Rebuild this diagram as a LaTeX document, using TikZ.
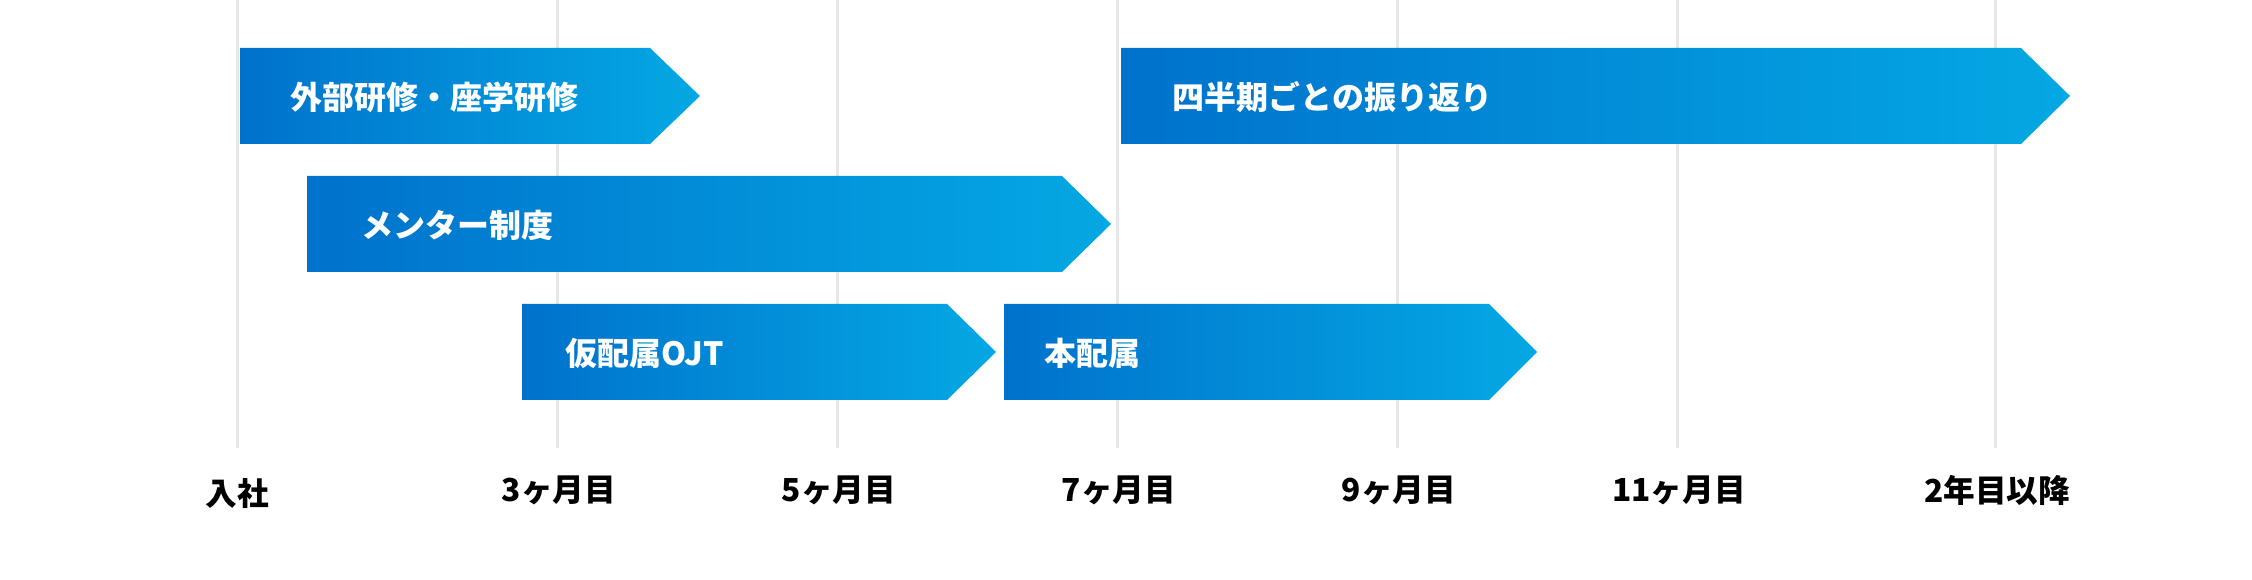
\documentclass[tikz,border=0pt]{standalone}
\usepackage{fontspec}
\setmainfont{Noto Sans CJK JP}
\usepackage{tikz}
\definecolor{bardark}{RGB}{0,114,204}
\definecolor{barlight}{RGB}{4,168,227}
\definecolor{gridgray}{RGB}{229,231,233}
\tikzset{
  bar/.style={left color=bardark, right color=barlight},
  grid/.style={draw=gridgray, line width=0.03cm},
  bartext/.style={anchor=west, text=white, font=\bfseries\fontsize{9.1pt}{9.5pt}\selectfont, inner sep=0pt},
  month/.style={text=black, font=\bfseries\fontsize{9pt}{9.5pt}\selectfont, inner sep=0pt}
}

\begin{document}
\begin{tikzpicture}[x=0.01cm, y=-0.01cm]
\useasboundingbox (0,0) rectangle (2252,580);
%grid
\draw[grid] (237,0) to (237,448);
\draw[grid] (557,0) to (557,448);
\draw[grid] (837,0) to (837,448);
\draw[grid] (1117,0) to (1117,448);
\draw[grid] (1397,0) to (1397,448);
\draw[grid] (1677,0) to (1677,448);
\draw[grid] (1995,0) to (1995,448);

%bars
%row 1
\shade[bar] (240,48) -- (650,48) -- (700,96) -- (650,144) -- (240,144) -- cycle;
\shade[bar] (1121,48) -- (2021,48) -- (2070,96) -- (2021,144) -- (1121,144) -- cycle;
%row 2
\shade[bar] (307,176) -- (1062,176) -- (1111,224) -- (1062,272) -- (307,272) -- cycle;
%row 3
\shade[bar] (522,304) -- (947,304) -- (996,352) -- (947,400) -- (522,400) -- cycle;
\shade[bar] (1004,304) -- (1489,304) -- (1537,352) -- (1489,400) -- (1004,400) -- cycle;

%put texts
\node[bartext] (gaibu) at (290,97) {外部研修・座学研修};
\node[bartext] (shihanki) at (1172,97) {四半期ごとの振り返り};
\node[bartext] (mentor) at (361,225) {メンター制度};
\node[bartext] (karihaizoku) at (565,353) {仮配属OJT};
\node[bartext] (honhaizoku) at (1044,353) {本配属};

%months
\node[month] (m0) at (237,494) {入社};
\node[month] (m3) at (559,490) {3ヶ月目};
\node[month] (m5) at (839,490) {5ヶ月目};
\node[month] (m7) at (1119,490) {7ヶ月目};
\node[month] (m9) at (1399,490) {9ヶ月目};
\node[month] (m11) at (1679,490) {11ヶ月目};
\node[month] (y2) at (1997,490) {2年目以降};
\end{tikzpicture}
\end{document}
